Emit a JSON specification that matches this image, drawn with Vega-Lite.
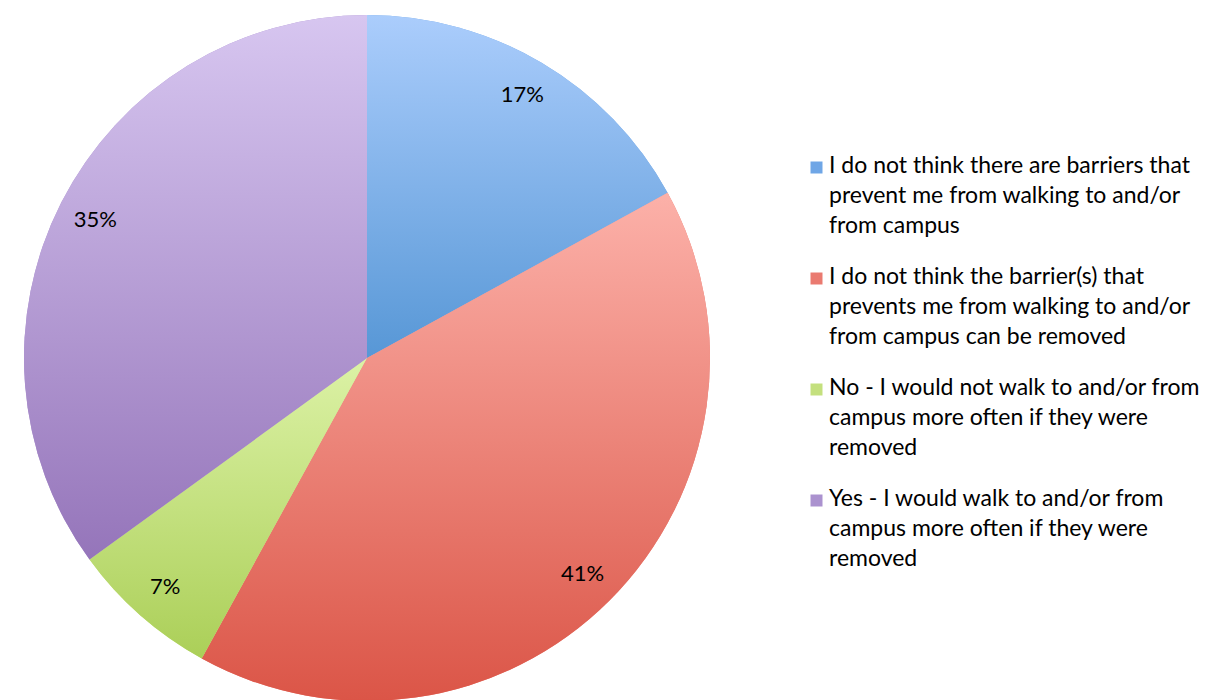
{
  "$schema": "https://vega.github.io/schema/vega-lite/v6.json",
  "width": 734,
  "height": 716,
  "padding": 0,
  "background": "white",
  "view": {"stroke": null},
  "data": {
    "values": [
      {"answer": "I do not think there are barriers that prevent me from walking to and/or from campus", "pct": 17, "label": "17%", "order": 1},
      {"answer": "I do not think the barrier(s) that prevents me from walking to and/or from campus can be removed", "pct": 41, "label": "41%", "order": 2},
      {"answer": "No - I would not walk to and/or from campus more often if they were removed", "pct": 7, "label": "7%", "order": 3},
      {"answer": "Yes - I would walk to and/or from campus more often if they were removed", "pct": 35, "label": "35%", "order": 4}
    ]
  },
  "transform": [
    {"stack": "pct", "groupby": [], "sort": [{"field": "order", "order": "ascending"}], "as": ["start", "end"]}
  ],
  "layer": [
    {
      "mark": {"type": "arc", "outerRadius": 343},
      "encoding": {
        "theta": {"field": "start", "type": "quantitative", "scale": {"domain": [0, 100], "zero": true}},
        "theta2": {"field": "end"},
        "color": {
          "field": "answer",
          "type": "nominal",
          "sort": null,
          "scale": {
            "domain": [
              "I do not think there are barriers that prevent me from walking to and/or from campus",
              "I do not think the barrier(s) that prevents me from walking to and/or from campus can be removed",
              "No - I would not walk to and/or from campus more often if they were removed",
              "Yes - I would walk to and/or from campus more often if they were removed"
            ],
            "range": ["#6fa6e6", "#ea7a70", "#c4e07e", "#ab92cf"]
          },
          "legend": {
            "title": null,
            "orient": "none",
            "legendX": 805,
            "legendY": 156,
            "symbolType": "square",
            "symbolSize": 144,
            "symbolStrokeWidth": 0,
            "labelFont": "Lato",
            "labelFontSize": 23,
            "labelColor": "#000000",
            "labelLimit": 0,
            "labelOffset": 1,
            "rowPadding": 27,
            "labelBaseline": "top",
            "labelExpr": "datum.label == 'I do not think there are barriers that prevent me from walking to and/or from campus' ? ['I do not think there are barriers that', 'prevent me from walking to and/or', 'from campus'] : datum.label == 'I do not think the barrier(s) that prevents me from walking to and/or from campus can be removed' ? ['I do not think the barrier(s) that', 'prevents me from walking to and/or', 'from campus can be removed'] : datum.label == 'No - I would not walk to and/or from campus more often if they were removed' ? ['No - I would not walk to and/or from', 'campus more often if they were', 'removed'] : ['Yes - I would walk to and/or from', 'campus more often if they were', 'removed']",
            "encode": {"labels": {"update": {"lineHeight": {"value": 30}, "dy": {"value": -13}}}}
          }
        }
      }
    },
    {
      "transform": [{"filter": "datum.order == 1"}],
      "mark": {"type": "arc", "outerRadius": 343, "color": {"gradient": "linear", "x1": 0, "y1": 0, "x2": 0, "y2": 1, "stops": [{"offset": 0, "color": "#abcdfc"}, {"offset": 1, "color": "#5797d6"}]}},
      "encoding": {
        "theta": {"field": "start", "type": "quantitative", "scale": {"domain": [0, 100], "zero": true}},
        "theta2": {"field": "end"}
      }
    },
    {
      "transform": [{"filter": "datum.order == 2"}],
      "mark": {"type": "arc", "outerRadius": 343, "color": {"gradient": "linear", "x1": 0, "y1": 0, "x2": 0, "y2": 1, "stops": [{"offset": 0, "color": "#fcb1a9"}, {"offset": 1, "color": "#db5547"}]}},
      "encoding": {
        "theta": {"field": "start", "type": "quantitative", "scale": {"domain": [0, 100], "zero": true}},
        "theta2": {"field": "end"}
      }
    },
    {
      "transform": [{"filter": "datum.order == 3"}],
      "mark": {"type": "arc", "outerRadius": 343, "color": {"gradient": "linear", "x1": 0, "y1": 0, "x2": 0, "y2": 1, "stops": [{"offset": 0, "color": "#dcf2a6"}, {"offset": 1, "color": "#abcf58"}]}},
      "encoding": {
        "theta": {"field": "start", "type": "quantitative", "scale": {"domain": [0, 100], "zero": true}},
        "theta2": {"field": "end"}
      }
    },
    {
      "transform": [{"filter": "datum.order == 4"}],
      "mark": {"type": "arc", "outerRadius": 343, "color": {"gradient": "linear", "x1": 0, "y1": 0, "x2": 0, "y2": 1, "stops": [{"offset": 0, "color": "#d7c6f0"}, {"offset": 1, "color": "#9575ba"}]}},
      "encoding": {
        "theta": {"field": "start", "type": "quantitative", "scale": {"domain": [0, 100], "zero": true}},
        "theta2": {"field": "end"}
      }
    },
    {
      "mark": {"type": "text", "radius": 305, "font": "Lato", "fontSize": 22, "color": "#000000"},
      "encoding": {
        "theta": {"field": "pct", "type": "quantitative", "stack": true, "scale": {"domain": [0, 100], "zero": true}},
        "order": {"field": "order", "type": "quantitative"},
        "text": {"field": "label", "type": "nominal"}
      }
    }
  ]
}
